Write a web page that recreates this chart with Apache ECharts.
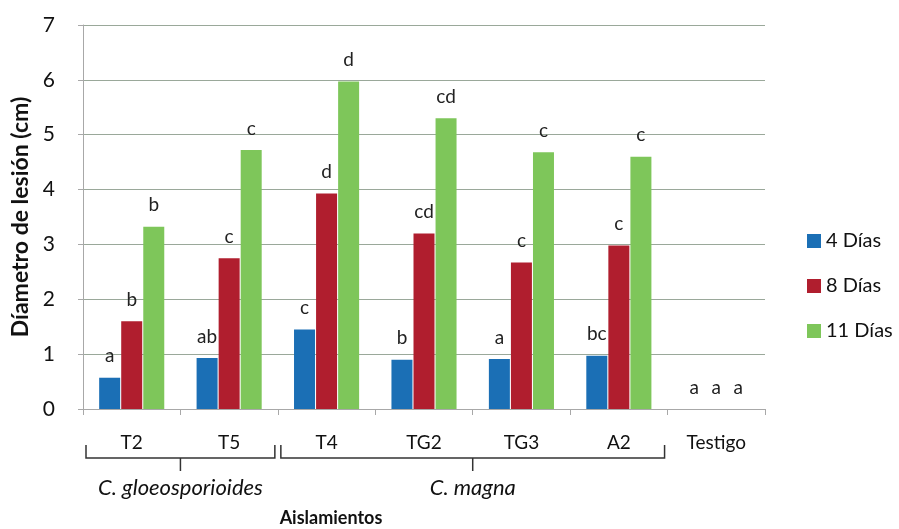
<!DOCTYPE html>
<html>
<head>
<meta charset="utf-8">
<script src="https://cdn.jsdelivr.net/npm/echarts@6/dist/echarts.min.js"></script>
<style>
  html, body { margin: 0; padding: 0; background: #fff; }
  #chart { width: 899px; height: 529px; }
</style>
</head>
<body>
<div id="chart"></div>
<script>
const categories = ['T2', 'T5', 'T4', 'TG2', 'TG3', 'A2', 'Testigo'];
const seriesNames = ['4 Días', '8 Días', '11 Días'];
const dias4 = [0.57, 0.93, 1.45, 0.90, 0.91, 0.97, 0];
const dias8 = [1.60, 2.75, 3.93, 3.20, 2.67, 2.98, 0];
const dias11 = [3.32, 4.72, 5.97, 5.30, 4.68, 4.60, 0];
const letras4 = ['a', 'ab', 'c', 'b', 'a', 'bc', 'a'];
const letras8 = ['b', 'c', 'd', 'cd', 'c', 'c', 'a'];
const letras11 = ['b', 'c', 'd', 'cd', 'c', 'c', 'a'];
const colors = ['#1b6fb5', '#b01e2e', '#7ec65a'];
const groups = [
    { name: 'C. gloeosporioides', from: 'T2', to: 'T5' },
    { name: 'C. magna', from: 'T4', to: 'A2' }
];

const FONT = 'Lato, "Noto Sans", sans-serif';
const chart = echarts.init(document.getElementById('chart'), null, { renderer: 'canvas' });

function makeSeries(i, values, letters) {
    return {
        name: seriesNames[i],
        type: 'bar',
        barWidth: 21,
        barGap: '5%',
        itemStyle: { color: colors[i] },
        data: values,
        label: {
            show: true,
            position: 'top',
            distance: 12,
            color: '#222',
            fontFamily: FONT,
            fontSize: 19,
            formatter: p => letters[p.dataIndex]
        }
    };
}

const option = {
    backgroundColor: '#fff',
    animation: false,
    grid: { left: 83, right: 134, top: 25, bottom: 120, containLabel: false },
    legend: {
        orient: 'vertical',
        left: 802,
        top: 226,
        itemWidth: 14,
        itemHeight: 14,
        itemGap: 25,
        icon: 'rect',
        textStyle: { fontFamily: FONT, fontSize: 20, color: '#111' },
        data: seriesNames
    },
    xAxis: {
        type: 'category',
        data: categories,
        axisLine: { lineStyle: { color: '#a8a8a8', width: 1 } },
        axisTick: { show: true, length: 6, lineStyle: { color: '#a8a8a8' } },
        axisLabel: { margin: 24, fontFamily: FONT, fontSize: 19, color: '#111' }
    },
    yAxis: {
        type: 'value',
        min: 0,
        max: 7,
        interval: 1,
        name: 'Díametro de lesión (cm)',
        nameLocation: 'middle',
        nameGap: 46,
        nameTextStyle: { fontFamily: FONT, fontSize: 23, fontWeight: 'bold', color: '#111' },
        axisLine: { show: true, lineStyle: { color: '#a8a8a8' } },
        axisTick: { show: true, length: 5, lineStyle: { color: '#a8a8a8' } },
        axisLabel: { margin: 28, fontFamily: FONT, fontSize: 21, color: '#111' },
        splitLine: { lineStyle: { color: '#9aa89a', width: 1 } }
    },
    series: [
        makeSeries(0, dias4, letras4),
        makeSeries(1, dias8, letras8),
        makeSeries(2, dias11, letras11)
    ]
};

chart.setOption(option);

// braces under the category labels, placed from the axis scale
function addGroupBraces() {
    const half = chart.convertToPixel({ xAxisIndex: 0 }, categories[1]) -
        chart.convertToPixel({ xAxisIndex: 0 }, categories[0]);
    const baseY = chart.convertToPixel({ yAxisIndex: 0 }, 0);
    const yLine = baseY + 49;
    const elements = [];
    groups.forEach(g => {
        const x0 = chart.convertToPixel({ xAxisIndex: 0 }, g.from) - half / 2 + 3;
        const x1 = chart.convertToPixel({ xAxisIndex: 0 }, g.to) + half / 2 - 3;
        const xm = (x0 + x1) / 2;
        const style = { stroke: '#333', lineWidth: 1.5, fill: null };
        elements.push({ type: 'polyline', shape: { points: [[x0, yLine - 13], [x0, yLine], [x1, yLine], [x1, yLine - 13]] }, style: style, silent: true });
        elements.push({ type: 'line', shape: { x1: xm, y1: yLine, x2: xm, y2: yLine + 13 }, style: style, silent: true });
        elements.push({
            type: 'text', x: xm, y: yLine + 30,
            style: { text: g.name, fontFamily: FONT, fontSize: 22, fontStyle: 'italic', fill: '#111', align: 'center', verticalAlign: 'middle' },
            silent: true
        });
    });
    const axisMid = (chart.convertToPixel({ xAxisIndex: 0 }, categories[0]) + chart.convertToPixel({ xAxisIndex: 0 }, categories[categories.length - 1])) / 2;
    elements.push({
        type: 'text', x: axisMid - 93, y: baseY + 109,
        style: { text: 'Aislamientos', fontFamily: FONT, fontSize: 18, fontWeight: 'bold', fill: '#111', align: 'center', verticalAlign: 'middle' },
        silent: true
    });
    chart.setOption({ graphic: elements });
}
addGroupBraces();
</script>
</body>
</html>
